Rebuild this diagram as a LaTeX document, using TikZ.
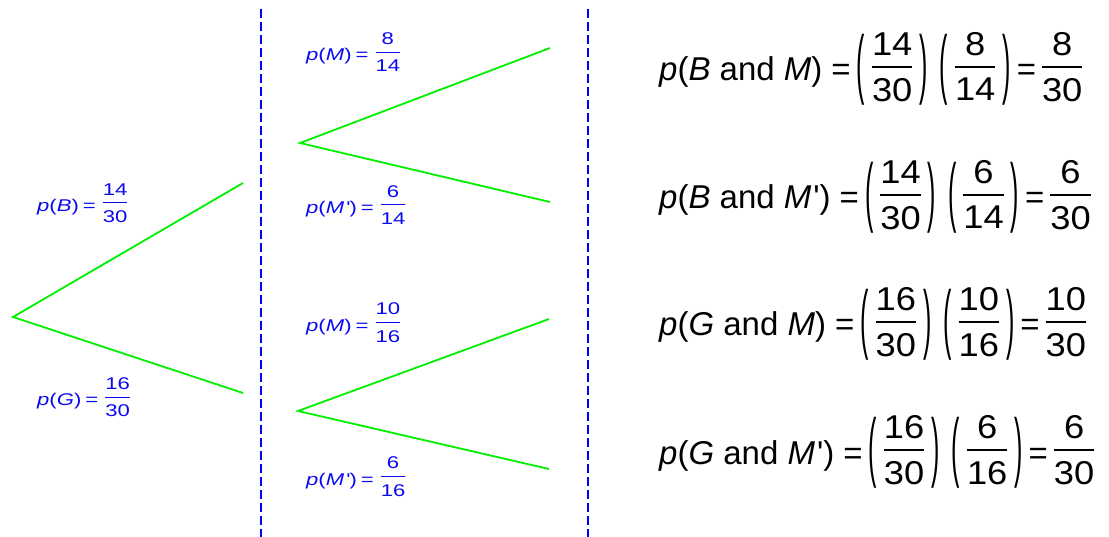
\documentclass[tikz,border=0pt]{standalone}
\usepackage{fontspec}
\usepackage{graphicx}
\setmainfont{Liberation Sans}
\newfontfamily\lblfont[FakeStretch=1.3]{Liberation Sans}
\newfontfamily\fracfont[FakeStretch=1.1]{Liberation Sans}
\definecolor{treegreen}{RGB}{0,240,0}
\definecolor{lblblue}{RGB}{10,10,240}
\newlength\frgap \newlength\frraise \newlength\frrule \newlength\prraise \newlength\frdenht
% generic stacked fraction: #1 numerator, #2 denominator
\newcommand\stackfr[2]{%
  \setbox0=\hbox{#1}\setbox2=\hbox{#2}%
  \dimen0=\wd0 \ifdim\wd2>\dimen0 \dimen0=\wd2 \fi
  \setlength\frdenht{\ht2}%
  \setbox4=\vbox{\hbox to\dimen0{\hfil\box0\hfil}\kern\frgap\hrule height\frrule\kern\frgap\hbox to\dimen0{\hfil\box2\hfil}}%
  \raisebox{\dimexpr\frraise-\frdenht-\frgap-0.5\frrule\relax}{\box4}}
\newcommand\lfr[2]{{\setlength\frgap{7.3pt}\setlength\frrule{1pt}\setlength\frraise{8.7pt}%
  \kern3pt\stackfr{#1}{#2}}}
\newcommand\efr[2]{{\fracfont\setlength\frgap{10.5pt}\setlength\frrule{1.5pt}\setlength\frraise{14pt}%
  \stackfr{#1}{#2}}}
\newcommand\tallp[1]{\setbox6=\hbox{\fontsize{25}{30}\selectfont\scalebox{1}[3.05]{#1}}\setlength\prraise{\dimexpr47pt-\ht6\relax}\raisebox{\prraise}{\box6}}
\newcommand\pfrac[2]{\tallp{(}\hspace{7pt}\efr{#1}{#2}\hspace{7pt}\tallp{)}}
\newcommand\pr{\hspace{2pt}\textquotesingle}
\tikzset{
  branch/.style={draw=treegreen, line width=1.8pt},
  divider/.style={draw=blue, line width=1.6pt, dash pattern=on 9pt off 4pt},
  lbl/.style={anchor=base west, inner sep=0pt, text=lblblue, font=\lblfont\fontsize{17}{20}\selectfont},
  eqn/.style={anchor=base west, inner sep=0pt, font=\fontsize{33}{38}\selectfont},
}
\begin{document}
\begin{tikzpicture}[x=1pt,y=-1pt]
\useasboundingbox (0,0) rectangle (1109,537);
% dividers
\coordinate (d1t) at (261,9); \coordinate (d1b) at (261,537);
\coordinate (d2t) at (588,9); \coordinate (d2b) at (588,537);
\draw[divider] (d1t) -- (d1b);
\draw[divider] (d2t) -- (d2b);
% first stage
\coordinate (r0) at (13,317);
\coordinate (bB) at (243,183);
\coordinate (bG) at (243,393);
\draw[branch] (bB) -- (r0) -- (bG);
% second stage, boy
\coordinate (r1) at (300,143);
\coordinate (bBM) at (550,48);
\coordinate (bBMp) at (550,202);
\draw[branch] (bBM) -- (r1) -- (bBMp);
% second stage, girl
\coordinate (r2) at (298,411);
\coordinate (bGM) at (549,319);
\coordinate (bGMp) at (549,469);
\draw[branch] (bGM) -- (r2) -- (bGMp);
% labels
\node[lbl] (lB) at (37,211.7) {\textit{p}(\textit{B})\hspace{4pt}=\hspace{4pt}\lfr{14}{30}};
\node[lbl] (lG) at (37,405.7) {\textit{p}(\textit{G})\hspace{4pt}=\hspace{4pt}\lfr{16}{30}};
\node[lbl] (lM1) at (306,61) {\textit{p}(\textit{M})\hspace{4pt}=\hspace{4pt}\lfr{8}{14}};
\node[lbl] (lMp1) at (306,213.7) {\textit{p}(\textit{M}\pr)\hspace{4pt}=\hspace{4pt}\lfr{6}{14}};
\node[lbl] (lM2) at (306,331.4) {\textit{p}(\textit{M})\hspace{4pt}=\hspace{4pt}\lfr{10}{16}};
\node[lbl] (lMp2) at (306,485.4) {\textit{p}(\textit{M}\pr)\hspace{4pt}=\hspace{4pt}\lfr{6}{16}};
% equations
\node[eqn] (e1) at (659,81) {\textit{p}(\textit{B} and \textit{M})\hspace{9pt}=\hspace{6pt}\pfrac{14}{30}\hspace{12pt}\pfrac{8}{14}\hspace{6pt}=\hspace{6pt}\efr{8}{30}};
\node[eqn] (e2) at (659,209) {\textit{p}(\textit{B} and \textit{M}\pr)\hspace{9pt}=\hspace{6pt}\pfrac{14}{30}\hspace{12pt}\pfrac{6}{14}\hspace{6pt}=\hspace{6pt}\efr{6}{30}};
\node[eqn] (e3) at (659,336) {\textit{p}(\textit{G} and \textit{M})\hspace{9pt}=\hspace{6pt}\pfrac{16}{30}\hspace{12pt}\pfrac{10}{16}\hspace{6pt}=\hspace{6pt}\efr{10}{30}};
\node[eqn] (e4) at (659,464) {\textit{p}(\textit{G} and \textit{M}\pr)\hspace{9pt}=\hspace{6pt}\pfrac{16}{30}\hspace{12pt}\pfrac{6}{16}\hspace{6pt}=\hspace{6pt}\efr{6}{30}};
\end{tikzpicture}
\end{document}
